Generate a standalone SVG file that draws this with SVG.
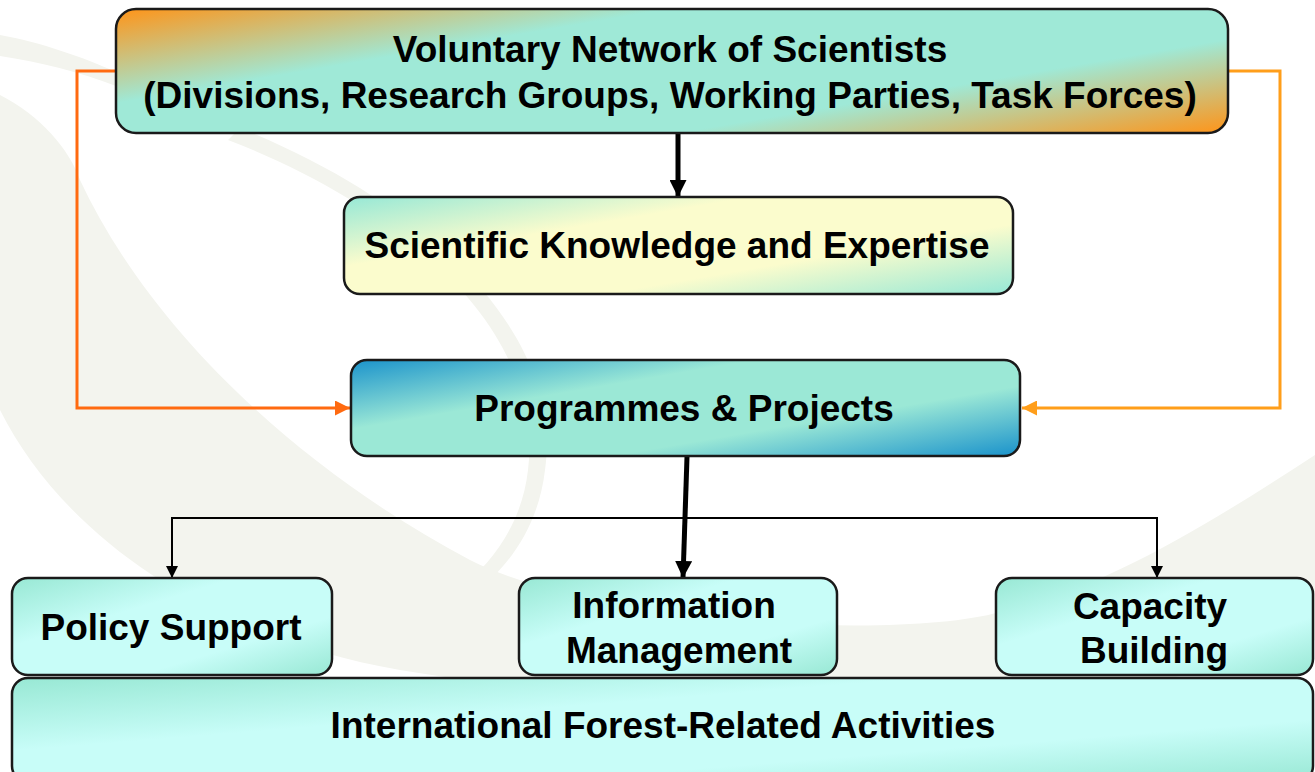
<svg xmlns="http://www.w3.org/2000/svg" width="1315" height="772" viewBox="0 0 1315 772">
<defs>
<style>
.node{stroke:#1a1a1a;stroke-width:2.5}
.lbl{font-family:"Liberation Sans",Arial,sans-serif;font-weight:bold;font-size:37px;fill:#000;text-anchor:middle}
.conn{fill:none}
.swoosh{fill:#f3f4ee}
</style>
<linearGradient id="gTop" gradientUnits="userSpaceOnUse" x1="116" y1="9" x2="168" y2="314">
<stop offset="0" stop-color="#ff9418"/>
<stop offset="0.3" stop-color="#9fe9d7"/>
<stop offset="0.7" stop-color="#9fe9d7"/>
<stop offset="1" stop-color="#ff9418"/>
</linearGradient>
<linearGradient id="gSci" gradientUnits="userSpaceOnUse" x1="344" y1="197" x2="379" y2="402">
<stop offset="0" stop-color="#96e8d6"/>
<stop offset="0.33" stop-color="#fbfccd"/>
<stop offset="0.67" stop-color="#fbfccd"/>
<stop offset="1" stop-color="#96e8d6"/>
</linearGradient>
<linearGradient id="gProg" gradientUnits="userSpaceOnUse" x1="351" y1="360" x2="386" y2="564">
<stop offset="0" stop-color="#1b93cb"/>
<stop offset="0.33" stop-color="#9be8d6"/>
<stop offset="0.67" stop-color="#9be8d6"/>
<stop offset="1" stop-color="#1b93cb"/>
</linearGradient>
<linearGradient id="gBot" x1="0" y1="0" x2="1" y2="1">
<stop offset="0" stop-color="#98e8d4"/>
<stop offset="0.35" stop-color="#c8fdf8"/>
<stop offset="0.7" stop-color="#c8fdf8"/>
<stop offset="1" stop-color="#98e8d4"/>
</linearGradient>
<marker id="aBlk" viewBox="0 0 10 10" refX="10" refY="5" markerWidth="3.4" markerHeight="3.4" orient="auto" markerUnits="strokeWidth">
<path d="M0,0 L10,5 L0,10 Z" fill="#000"/>
</marker>
<marker id="aThin" viewBox="0 0 10 10" refX="10" refY="5" markerWidth="6.5" markerHeight="6" orient="auto" markerUnits="strokeWidth">
<path d="M0,0 L10,5 L0,10 Z" fill="#000"/>
</marker>
<marker id="aOr1" viewBox="0 0 10 10" refX="10" refY="5" markerWidth="5" markerHeight="5" orient="auto" markerUnits="strokeWidth">
<path d="M0,0 L10,5 L0,10 Z" fill="#ff6a10"/>
</marker>
<marker id="aOr2" viewBox="0 0 10 10" refX="10" refY="5" markerWidth="5" markerHeight="5" orient="auto" markerUnits="strokeWidth">
<path d="M0,0 L10,5 L0,10 Z" fill="#ff9e1a"/>
</marker>
</defs>
<rect width="1315" height="772" fill="#ffffff"/>
<g id="background">
<path class="swoosh" d="M0,95 C40,115 70,150 80,180 C150,330 300,470 470,560 C600,625 900,640 1000,612 C1100,590 1200,530 1315,455 L1315,640 C1100,720 700,720 400,670 C200,635 60,530 0,410 Z"/>
<path class="swoosh" d="M0,35 C40,42 85,58 116,72 L116,86 C80,72 40,62 0,56 Z"/>
<path class="swoosh" d="M240,128 C420,200 565,330 545,470 C538,530 505,570 475,592 L460,588 C490,565 522,525 528,470 C545,335 410,210 228,140 Z"/>
</g>
<g id="connectors">
<path class="conn" d="M116,71 H77 V408 H350" stroke="#ff6a10" stroke-width="3" marker-end="url(#aOr1)"/>
<path class="conn" d="M1228,71 H1280 V408 H1022" stroke="#ff9e1a" stroke-width="3" marker-end="url(#aOr2)"/>
<path class="conn" d="M678,134 V197" stroke="#000" stroke-width="5" marker-end="url(#aBlk)"/>
<path class="conn" d="M687,457 L683,578" stroke="#000" stroke-width="5" marker-end="url(#aBlk)"/>
<path class="conn" d="M686,518 H172 V578" stroke="#000" stroke-width="2" marker-end="url(#aThin)"/>
<path class="conn" d="M686,518 H1157 V578" stroke="#000" stroke-width="2" marker-end="url(#aThin)"/>
</g>
<g id="n-network">
<rect class="node" x="116" y="9" width="1112" height="124" rx="20" fill="url(#gTop)"/>
<text class="lbl" x="670" y="62">Voluntary Network of Scientists</text>
<text class="lbl" x="670" y="108">(Divisions, Research Groups, Working Parties, Task Forces)</text>
</g>
<g id="n-knowledge">
<rect class="node" x="344" y="197" width="669" height="97" rx="16" fill="url(#gSci)"/>
<text class="lbl" x="677" y="258">Scientific Knowledge and Expertise</text>
</g>
<g id="n-programmes">
<rect class="node" x="351" y="360" width="669" height="96" rx="16" fill="url(#gProg)"/>
<text class="lbl" x="684" y="421">Programmes &amp; Projects</text>
</g>
<g id="n-policy">
<rect class="node" x="12" y="578" width="320" height="97" rx="16" fill="url(#gBot)"/>
<text class="lbl" x="171" y="640">Policy Support</text>
</g>
<g id="n-info">
<rect class="node" x="519" y="578" width="318" height="97" rx="16" fill="url(#gBot)"/>
<text class="lbl" x="674" y="618">Information</text>
<text class="lbl" x="679" y="663">Management</text>
</g>
<g id="n-capacity">
<rect class="node" x="996" y="578" width="317" height="97" rx="16" fill="url(#gBot)"/>
<text class="lbl" x="1150" y="619">Capacity</text>
<text class="lbl" x="1154" y="663">Building</text>
</g>
<g id="n-international">
<rect class="node" x="12" y="678" width="1301" height="104" rx="16" fill="url(#gBot)"/>
<text class="lbl" x="663" y="738">International Forest-Related Activities</text>
</g>
</svg>
